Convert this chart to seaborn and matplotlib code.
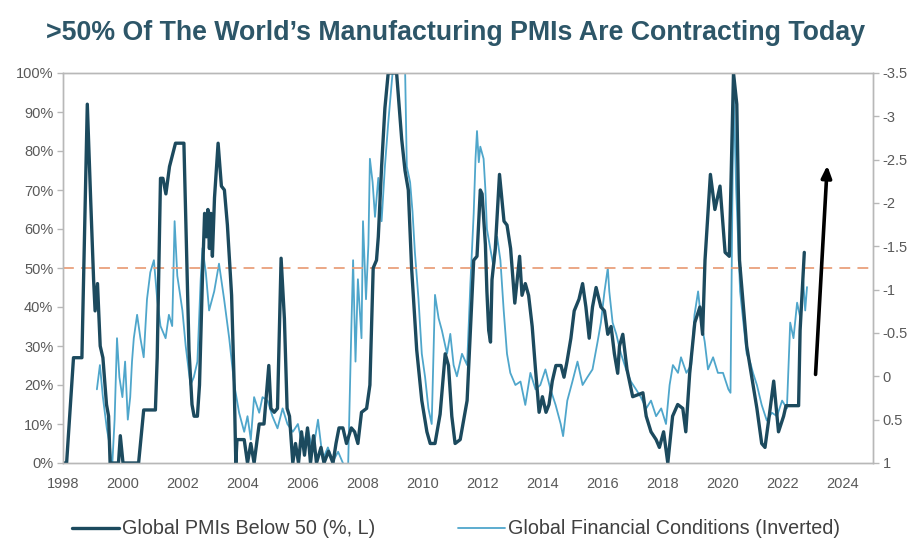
import numpy as np
import pandas as pd
import matplotlib
matplotlib.use("Agg")
import matplotlib.pyplot as plt
import seaborn as sns
from matplotlib.ticker import FuncFormatter

# ---------------- data ----------------
pmi_years = [1998.0, 1998.12, 1998.35, 1998.63, 1998.81, 1998.92, 1999.02, 1999.07, 1999.15, 1999.24,
             1999.33, 1999.45, 1999.52, 1999.57, 1999.85, 1999.91, 2000.0, 2000.52, 2000.69, 2001.08,
             2001.14, 2001.25, 2001.33, 2001.43, 2001.55, 2001.75, 2002.03, 2002.2, 2002.3, 2002.37,
             2002.48, 2002.55, 2002.65, 2002.72, 2002.78, 2002.83, 2002.88, 2002.93, 2002.98, 2003.05,
             2003.17, 2003.28, 2003.38, 2003.48, 2003.62, 2003.71, 2003.76, 2003.8, 2004.04, 2004.15,
             2004.26, 2004.37, 2004.54, 2004.7, 2004.86, 2004.93, 2005.04, 2005.15, 2005.27, 2005.38,
             2005.47, 2005.55, 2005.66, 2005.75, 2005.85, 2005.95, 2006.05, 2006.15, 2006.25, 2006.35,
             2006.45, 2006.6, 2006.7, 2006.85, 2007.0, 2007.1, 2007.2, 2007.33, 2007.45, 2007.61,
             2007.72, 2007.83, 2007.95, 2008.12, 2008.23, 2008.34, 2008.45, 2008.51, 2008.62, 2008.73,
             2008.84, 2009.12, 2009.29, 2009.4, 2009.51, 2009.62, 2009.79, 2009.96, 2010.13, 2010.24,
             2010.4, 2010.57, 2010.74, 2010.85, 2010.96, 2011.07, 2011.24, 2011.47, 2011.69, 2011.8,
             2011.91, 2011.97, 2012.08, 2012.13, 2012.19, 2012.25, 2012.3, 2012.41, 2012.55, 2012.7,
             2012.8, 2012.92, 2013.06, 2013.22, 2013.3, 2013.41, 2013.52, 2013.64, 2013.75, 2013.87,
             2013.98, 2014.1, 2014.2, 2014.31, 2014.43, 2014.6, 2014.7, 2014.8, 2014.93, 2015.04,
             2015.2, 2015.32, 2015.43, 2015.54, 2015.65, 2015.77, 2015.93, 2016.05, 2016.16, 2016.27,
             2016.38, 2016.49, 2016.55, 2016.66, 2016.8, 2016.99, 2017.33, 2017.44, 2017.6, 2017.77,
             2017.88, 2018.02, 2018.16, 2018.32, 2018.49, 2018.66, 2018.76, 2018.89, 2019.06, 2019.23,
             2019.32, 2019.4, 2019.58, 2019.73, 2019.9, 2020.07, 2020.21, 2020.35, 2020.46, 2020.55,
             2020.79, 2020.96, 2021.13, 2021.29, 2021.4, 2021.54, 2021.69, 2021.85, 2022.02, 2022.1,
             2022.52, 2022.57, 2022.71]
pmi_below50 = [0, 0, 27, 27, 92, 68, 47, 39, 46, 30,
               27, 15, 12, 0, 0, 7, 0, 0, 13.6, 13.6,
               27, 73, 73, 69, 76, 82, 82, 29, 15, 12,
               12, 20, 48, 64, 58, 65, 55, 64, 53, 68,
               82, 71, 70, 61, 43, 19, 0, 6, 6, 0,
               5, 0, 10, 10, 25, 14, 13, 14, 52.5, 37,
               14, 12, 0, 5, 0, 8, 2, 9, 0, 7,
               0, 4, 0, 3, 0, 5, 9, 9, 5, 9,
               8, 5, 13, 14, 20, 50, 52, 58, 76, 91,
               100, 100, 83, 75, 70, 50, 29, 16, 8, 5,
               5, 12.5, 28, 25, 12, 5, 6, 16, 52, 53,
               70, 69, 56, 44, 34, 31, 47, 55, 74, 62,
               61, 55, 41, 53, 43, 46, 43, 35, 24, 13,
               17, 13, 15, 21, 25, 25, 22, 26, 32, 39,
               42, 46, 40, 32, 40, 45, 40, 39, 33, 35,
               28, 23, 30, 33, 24, 17, 18, 12, 8, 6,
               4, 8, 0, 12, 15, 14, 8, 23, 36, 40,
               33, 52, 74, 65, 71, 54, 53, 100, 92, 52,
               30, 22, 14, 5, 4, 12, 21, 8, 12, 14.7,
               14.7, 34, 54]

fci_years = [1999.13, 1999.23, 1999.33, 1999.46, 1999.57, 1999.63, 1999.72, 1999.8, 1999.88, 1999.98,
             2000.07, 2000.16, 2000.24, 2000.3, 2000.36, 2000.47, 2000.58, 2000.69, 2000.8, 2000.91,
             2001.03, 2001.14, 2001.25, 2001.42, 2001.53, 2001.64, 2001.72, 2001.81, 2001.98, 2002.09,
             2002.25, 2002.36, 2002.48, 2002.59, 2002.65, 2002.76, 2002.87, 2003.04, 2003.2, 2003.37,
             2003.54, 2003.71, 2003.87, 2004.04, 2004.15, 2004.26, 2004.37, 2004.54, 2004.65, 2004.82,
             2004.98, 2005.15, 2005.32, 2005.48, 2005.66, 2005.83, 2005.99, 2006.16, 2006.33, 2006.5,
             2006.66, 2006.83, 2007.0, 2007.17, 2007.33, 2007.5, 2007.61, 2007.67, 2007.75, 2007.83,
             2007.95, 2008.0, 2008.1, 2008.18, 2008.23, 2008.32, 2008.4, 2008.51, 2008.62, 2008.73,
             2008.84, 2009.01, 2009.2, 2009.4, 2009.46, 2009.57, 2009.65, 2009.73, 2009.85, 2009.96,
             2010.07, 2010.18, 2010.29, 2010.4, 2010.52, 2010.63, 2010.8, 2010.91, 2011.02, 2011.13,
             2011.3, 2011.47, 2011.58, 2011.69, 2011.75, 2011.8, 2011.86, 2011.91, 2012.02, 2012.08,
             2012.13, 2012.24, 2012.36, 2012.47, 2012.58, 2012.69, 2012.8, 2012.91, 2013.08, 2013.25,
             2013.41, 2013.58, 2013.75, 2013.91, 2014.08, 2014.25, 2014.42, 2014.59, 2014.67, 2014.81,
             2014.98, 2015.15, 2015.32, 2015.48, 2015.65, 2015.82, 2015.93, 2016.05, 2016.16, 2016.21,
             2016.32, 2016.44, 2016.6, 2016.77, 2016.93, 2017.1, 2017.26, 2017.44, 2017.6, 2017.77,
             2017.94, 2018.1, 2018.22, 2018.33, 2018.5, 2018.6, 2018.78, 2018.94, 2019.05, 2019.17,
             2019.28, 2019.39, 2019.5, 2019.67, 2019.83, 2020.0, 2020.18, 2020.25, 2020.35, 2020.44,
             2020.51, 2020.57, 2020.68, 2020.79, 2020.9, 2021.0, 2021.13, 2021.29, 2021.46, 2021.63,
             2021.8, 2021.97, 2022.13, 2022.24, 2022.35, 2022.47, 2022.58, 2022.67, 2022.74, 2022.8]
fci_inverted = [0.15, -0.13, 0.24, 0.6, 0.82, 1.1, 0.5, -0.44, 0.01, 0.24,
                -0.17, 0.5, 0.24, -0.17, -0.44, -0.71, -0.44, -0.22, -0.89, -1.2,
                -1.34, -0.89, -0.58, -0.44, -0.71, -0.58, -1.79, -1.16, -0.76, -0.35,
                0.1, 0.01, -0.17, -1.12, -1.48, -1.2, -0.76, -0.98, -1.3, -0.89,
                -0.44, 0.1, 0.42, 0.64, 0.46, 0.73, 0.24, 0.42, 0.24, 0.28,
                0.46, 0.6, 0.37, 0.55, 0.64, 0.55, 0.82, 0.6, 0.87, 0.5,
                0.96, 0.82, 0.98, 0.87, 1.0, 1.1, -0.53, -1.34, -0.17, -1.12,
                -0.44, -1.79, -0.89, -1.52, -2.51, -2.24, -1.84, -2.29, -1.79, -2.42,
                -2.92, -3.6, -3.8, -3.6, -2.42, -2.24, -1.9, -1.43, -0.89, -0.26,
                0.01, 0.37, 0.55, -0.94, -0.67, -0.53, -0.26, -0.49, -0.13, 0.0,
                -0.26, -0.13, -1.07, -1.88, -2.51, -2.83, -2.47, -2.65, -2.51, -2.15,
                -1.7, -1.48, -1.25, -1.61, -1.34, -0.76, -0.26, -0.04, 0.1, 0.06,
                0.33, -0.04, 0.15, 0.1, -0.08, 0.15, 0.33, 0.55, 0.69, 0.28,
                0.06, -0.17, 0.1, 0.01, -0.08, -0.4, -0.62, -0.98, -1.25, -0.98,
                -0.62, -0.49, -0.26, -0.08, 0.06, 0.15, 0.24, 0.37, 0.28, 0.46,
                0.37, 0.55, 0.1, -0.13, -0.04, -0.22, -0.04, -0.13, -0.71, -0.98,
                -0.62, -0.4, -0.08, -0.22, -0.04, -0.04, 0.15, 0.19, -3.37, -2.15,
                -1.52, -0.98, -0.62, -0.26, -0.17, -0.04, 0.1, 0.33, 0.51, 0.42,
                0.46, 0.28, 0.37, -0.62, -0.44, -0.85, -0.67, -1.12, -0.76, -1.03]

title_text = ">50% Of The World\u2019s Manufacturing PMIs Are Contracting Today"
label_pmi = "Global PMIs Below 50 (%, L)"
label_fci = "Global Financial Conditions (Inverted)"
x_ticks = list(range(1998, 2025, 2))
left_ticks = list(range(0, 101, 10))
right_ticks = [-3.5, -3, -2.5, -2, -1.5, -1, -0.5, 0, 0.5, 1]
threshold = 50

# ---------------- style ----------------
sns.set_style("white")
plt.rcParams["font.family"] = ["Liberation Sans", "DejaVu Sans"]

DARK = "#1c4a5e"
LIGHT = "#4fa6cb"
GREY_TXT = "#595959"
SPINE = "#b8b8b8"

fig = plt.figure(figsize=(9.12, 5.46), dpi=100)
ax = fig.add_axes([63 / 912, 1 - 463 / 546, (873 - 63) / 912, (463 - 73) / 546])
ax2 = ax.twinx()

pmi_df = pd.DataFrame({"year": pmi_years, "value": pmi_below50})
fci_df = pd.DataFrame({"year": fci_years, "value": fci_inverted})

sns.lineplot(data=fci_df, x="year", y="value", ax=ax2, color=LIGHT, linewidth=1.3,
             estimator=None, sort=False, label=label_fci, legend=False)
sns.lineplot(data=pmi_df, x="year", y="value", ax=ax, color=DARK, linewidth=2.4,
             estimator=None, sort=False, label=label_pmi, legend=False)

ax.set_zorder(ax2.get_zorder() + 1)
ax.patch.set_visible(False)

ax.axhline(threshold, color="#e9a07c", linestyle=(0, (6, 4)), linewidth=1.3, zorder=1)

ax.set_xlim(1998, 2025)
ax.set_ylim(0, 100)
ax2.set_ylim(1, -3.5)

ax.set_xticks(x_ticks)
ax.set_yticks(left_ticks)
ax.yaxis.set_major_formatter(FuncFormatter(lambda v, p: f"{v:.0f}%"))
ax2.set_yticks(right_ticks)
ax2.yaxis.set_major_formatter(FuncFormatter(lambda v, p: f"{v:g}"))

ax.set_xlabel("")
ax.set_ylabel("")
ax2.set_ylabel("")

for a in (ax, ax2):
    for s in a.spines.values():
        s.set_color(SPINE)
        s.set_linewidth(1.0)
    a.tick_params(colors=SPINE, labelcolor=GREY_TXT, labelsize=10.5, length=4, width=1)
    a.grid(False)
ax.tick_params(axis="x", pad=6)
ax.tick_params(axis="y", pad=3)
ax2.tick_params(axis="y", pad=3)

# Arrow annotation
ax.annotate("", xy=(2023.48, 77), xytext=(2023.08, 22),
            arrowprops=dict(arrowstyle="-|>,head_length=0.7,head_width=0.3", color="black", lw=2.6),
            zorder=5)

fig.text(0.5, 1 - 33 / 546, title_text, ha="center", va="center", fontsize=19.3,
         fontweight="bold", color="#2d5668")

h1 = ax.get_lines()[0]
h2 = ax2.get_lines()[0]
fig.legend([h1, h2], [label_pmi, label_fci], loc="center", bbox_to_anchor=(0.5, 1 - 529 / 546),
           ncol=2, frameon=False, handlelength=2.4, columnspacing=4.2,
           handletextpad=0.15, labelcolor="#404040",
           prop={"family": ["Liberation Sans", "DejaVu Sans"], "size": 14.2})

fig.savefig("out.png", dpi=100)
